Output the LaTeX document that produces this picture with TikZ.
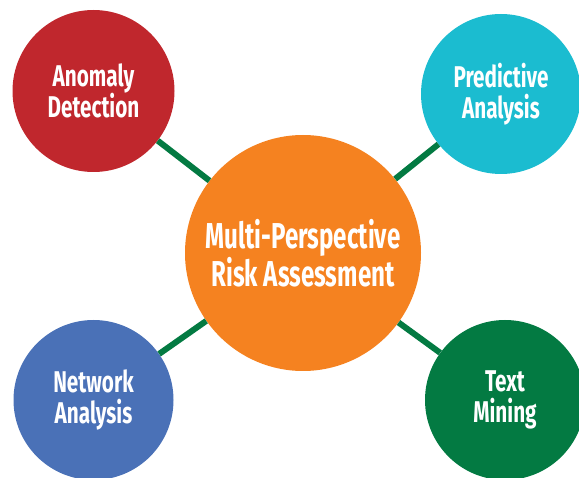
\documentclass[tikz,border=0pt]{standalone}
\usepackage{fontspec}
\newfontfamily\labelfont{Fira Sans}[FakeStretch=0.69]
\newfontfamily\hubfont{Fira Sans}[FakeStretch=0.67]
\usepackage{tikz}
\usetikzlibrary{calc}
\definecolor{anomred}{HTML}{C0272D}
\definecolor{predcyan}{HTML}{1BBCD0}
\definecolor{huborange}{HTML}{F58220}
\definecolor{netblue}{HTML}{4A71B7}
\definecolor{textgreen}{HTML}{037A42}
\definecolor{linkgreen}{HTML}{037A42}
\tikzset{topic/.style={circle,inner sep=0pt,minimum size=160pt,text=white,align=center,font=\labelfont\bfseries\fontsize{30}{31}\selectfont}}
\tikzset{hub/.style={topic,minimum size=236pt,font=\hubfont\bfseries\fontsize{36}{35}\selectfont}}
\tikzset{link/.style={line width=6pt,draw=linkgreen}}

\begin{document}
\begin{tikzpicture}[x=1pt,y=-1pt]
\useasboundingbox (0,0) rectangle (579,478);
\clip (0,0) rectangle (579,478);
\node[hub,fill=huborange] (hub) at (303,253) {Multi-Perspective\\Risk Assessment};
\node[topic,fill=anomred,minimum size=162pt] (anom) at (93.5,91) {Anomaly\\Detection};
\node[topic,fill=predcyan] (pred) at (501,94) {Predictive\\Analysis};
\node[topic,fill=netblue] (net) at (93.5,400) {Network\\Analysis};
\node[topic,fill=textgreen] (mine) at (505,400) {Text\\Mining};
\draw (hub) edge[link] (anom) edge[link] (pred)
(hub) edge[link] (net) edge[link] (mine);
\end{tikzpicture}
\end{document}
